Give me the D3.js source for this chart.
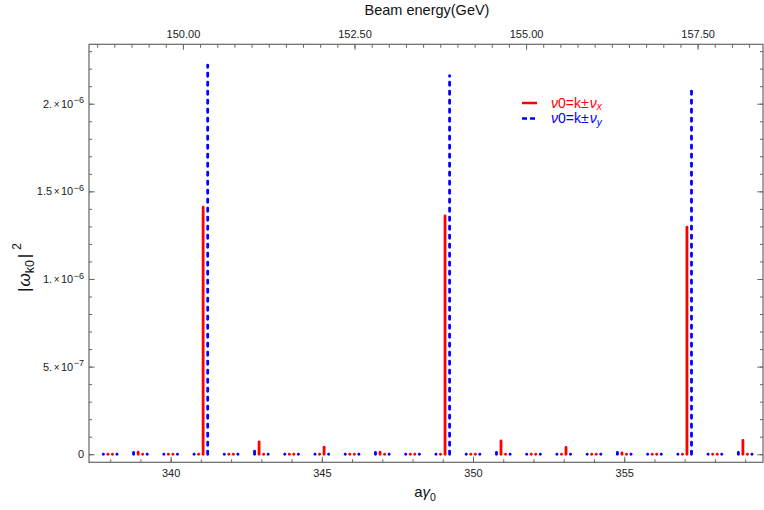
<!DOCTYPE html>
<html><head><meta charset="utf-8">
<script src="https://cdn.jsdelivr.net/npm/d3@7"></script>
<style>
body{margin:0;background:#fff;}
svg{display:block;font-family:"Liberation Sans",Arial,sans-serif;}
</style></head>
<body><svg id="c" width="764" height="510"></svg>
<script>
// ---- data ----
const orders = [338,339,340,341,342,343,344,345,346,347,348,349,350,351,352,353,354,355,356,357,358,359];
const nuXfrac = 0.075;   // fractional horizontal tune
const nuYfrac = 0.225;   // fractional vertical tune
// |w_k0|^2 at a*gamma0 = k - nu_x  and  k + nu_x  (red)
const redMinus = [0.2e-9,1.2e-8,0.2e-9,0.2e-9,0.2e-9,7.0e-8,0.2e-9,0.2e-9,0.2e-9,1.2e-8,0.2e-9,0.2e-9,0.2e-9,7.6e-8,0.2e-9,0.2e-9,0.2e-9,0.8e-8,0.2e-9,0.2e-9,0.2e-9,7.9e-8];
const redPlus  = [0.2e-9,0.2e-9,0.2e-9,1.41e-6,0.2e-9,0.2e-9,0.2e-9,4.0e-8,0.2e-9,0.2e-9,0.2e-9,1.36e-6,0.2e-9,0.2e-9,0.2e-9,3.9e-8,0.2e-9,0.2e-9,0.2e-9,1.295e-6,0.2e-9,0.2e-9];
// |w_k0|^2 at a*gamma0 = k - nu_y  and  k + nu_y  (blue)
const blueMinus = [0.2e-9,1.0e-8,0.2e-9,0.2e-9,0.2e-9,3.0e-8,0.2e-9,0.2e-9,0.2e-9,1.0e-8,0.2e-9,0.2e-9,0.2e-9,1.0e-8,0.2e-9,0.2e-9,0.2e-9,1.0e-8,0.2e-9,0.2e-9,0.2e-9,1.0e-8];
const bluePlus  = [0.2e-9,0.2e-9,0.2e-9,2.22e-6,0.2e-9,0.2e-9,0.2e-9,0.2e-9,0.2e-9,0.2e-9,0.2e-9,2.16e-6,0.2e-9,0.2e-9,0.2e-9,0.2e-9,0.2e-9,0.2e-9,0.2e-9,2.105e-6,0.2e-9,0.2e-9];
const xMajorTicks = [340,345,350,355];
const yMajorTicks = [0,5e-7,1e-6,1.5e-6,2e-6];
const yTickLabels = [["0",""],["5.","-7"],["1.","-6"],["1.5","-6"],["2.","-6"]];
const energyMajorTicks = [150,152.5,155,157.5];
const gevPerUnit = 0.440649;   // beam energy (GeV) per unit of a*gamma0
const legendLabels = [["ν","0=k±","ν","x"],["ν","0=k±","ν","y"]];

// ---- layout ----
const L=89, R=763, T=44.3, B=462.3;
const svg = d3.select("#c");
const x = d3.scaleLinear().domain([337.30, 359.59]).range([L,R]);
const y = d3.scaleLinear().domain([-0.046e-6, 2.339e-6]).range([B,T]);
const xE = d3.scaleLinear().domain(x.domain().map(d=>d*gevPerUnit)).range([L,R]);
const frameCol = "#666";

function styleAxis(g){
  g.select(".domain").remove();
  g.selectAll("line").attr("stroke",frameCol).attr("stroke-width",1);
  g.selectAll("text").attr("fill","#222").style("font-size","11px").style("font-family","'Liberation Sans',Arial,sans-serif");
}
const xMinor = orders;
const yMinor = d3.range(0,24).map(i=>i*1e-7);
const eMinor = d3.range(0,39).map(i=>148.75+i*0.25);

// bottom
svg.append("g").attr("transform",`translate(0,${B})`)
  .call(d3.axisBottom(x).tickValues(xMinor).tickSize(-3).tickFormat("")).call(styleAxis);
svg.append("g").attr("transform",`translate(0,${B})`)
  .call(d3.axisBottom(x).tickValues(xMajorTicks).tickSize(-5.5).tickPadding(7).tickFormat(d3.format("d"))).call(styleAxis);
// top
svg.append("g").attr("transform",`translate(0,${T})`)
  .call(d3.axisTop(xE).tickValues(eMinor).tickSize(-3.5).tickFormat("")).call(styleAxis);
svg.append("g").attr("transform",`translate(0,${T})`)
  .call(d3.axisTop(xE).tickValues(energyMajorTicks).tickSize(-5.5).tickPadding(6.5).tickFormat(d3.format(".2f"))).call(styleAxis);
// left
svg.append("g").attr("transform",`translate(${L},0)`)
  .call(d3.axisLeft(y).tickValues(yMinor).tickSize(-3).tickFormat("")).call(styleAxis);
const gl = svg.append("g").attr("transform",`translate(${L},0)`)
  .call(d3.axisLeft(y).tickValues(yMajorTicks).tickSize(-5.7).tickPadding(5).tickFormat("")).call(styleAxis);
gl.selectAll(".tick text").each(function(d,i){
  const t = d3.select(this); const lab = yTickLabels[i];
  t.text(null);
  t.append("tspan").text(lab[0]);
  if(lab[1]){
    t.append("tspan").text("×").style("font-size","10px").attr("dx","1.5");
    t.append("tspan").text("10").attr("dx","1.5");
    t.append("tspan").text("−"+lab[1].slice(1)).style("font-size","9px").attr("dy","-4.5").attr("dx","0.5");
  }
});
// right
svg.append("g").attr("transform",`translate(${R},0)`)
  .call(d3.axisRight(y).tickValues(yMinor).tickSize(-3).tickFormat("")).call(styleAxis);
svg.append("g").attr("transform",`translate(${R},0)`)
  .call(d3.axisRight(y).tickValues(yMajorTicks).tickSize(-5.7).tickFormat("")).call(styleAxis);

// frame
svg.append("rect").attr("x",L).attr("y",T).attr("width",R-L).attr("height",B-T)
  .attr("fill","none").attr("stroke",frameCol).attr("stroke-width",1.2);

// ---- marks ----
const plot = svg.append("g");
function series(minus, plus, nu){
  const pts=[];
  orders.forEach((k,i)=>{ pts.push({x:k-nu,v:minus[i]}); pts.push({x:k+nu,v:plus[i]}); });
  return pts;
}
const bluePts = series(blueMinus,bluePlus,nuYfrac);
const redPts = series(redMinus,redPlus,nuXfrac);
plot.selectAll("line.blue").data(bluePts).join("line").attr("class","blue")
  .attr("x1",d=>x(d.x)).attr("x2",d=>x(d.x)).attr("y1",y(0)).attr("y2",d=>y(d.v))
  .attr("stroke","#0000ff").attr("stroke-width",2.8).attr("stroke-linecap","round")
  .attr("stroke-dasharray","3.2,5.8");
plot.selectAll("line.red").data(redPts).join("line").attr("class","red")
  .attr("x1",d=>x(d.x)).attr("x2",d=>x(d.x)).attr("y1",y(0)).attr("y2",d=>y(d.v))
  .attr("stroke","#ff0000").attr("stroke-width",2.8).attr("stroke-linecap","round");

// ---- legend ----
const lg = svg.append("g");
const legCols = ["#ff0000","#0000ff"];
legendLabels.forEach((lab,i)=>{
  const yy = 103 + i*15.5;
  lg.append("line").attr("x1",522).attr("x2",537).attr("y1",yy).attr("y2",yy)
    .attr("stroke",legCols[i]).attr("stroke-width",2.5)
    .attr("stroke-dasharray", i===1 ? "5,3" : null);
  const t = lg.append("text").attr("x",551).attr("y",yy+4.8).attr("fill",legCols[i]).style("font-size","14px");
  t.append("tspan").text(lab[0]).style("font-style","italic");
  t.append("tspan").text(lab[1]);
  t.append("tspan").text(lab[2]).style("font-style","italic").attr("dx","1");
  t.append("tspan").text(lab[3]).style("font-style","italic").style("font-size","10px").attr("dy","2.5");
});

// ---- axis titles ----
svg.append("text").attr("x",427).attr("y",15).attr("text-anchor","middle")
  .style("font-size","14.5px").attr("fill","#111").text("Beam energy(GeV)");
const xt = svg.append("text").attr("x",425).attr("y",497).attr("text-anchor","middle")
  .style("font-size","15px").attr("fill","#111");
xt.append("tspan").text("a");
xt.append("tspan").text("γ").style("font-style","italic");
xt.append("tspan").text("0").style("font-size","10.5px").attr("dy","3.5");
const yt = svg.append("text").attr("transform","translate(30,292) rotate(-90)").attr("text-anchor","start")
  .style("font-size","17px").attr("fill","#111");
yt.append("tspan").text("|");
yt.append("tspan").text("ω").style("font-style","italic").attr("dx","1");
yt.append("tspan").text("k0").style("font-size","12.5px").attr("dy","4");
yt.append("tspan").text("|").attr("dy","-4").attr("dx","2");
yt.append("tspan").text("2").style("font-size","12px").attr("dy","-9").attr("dx","4");
</script></body></html>
